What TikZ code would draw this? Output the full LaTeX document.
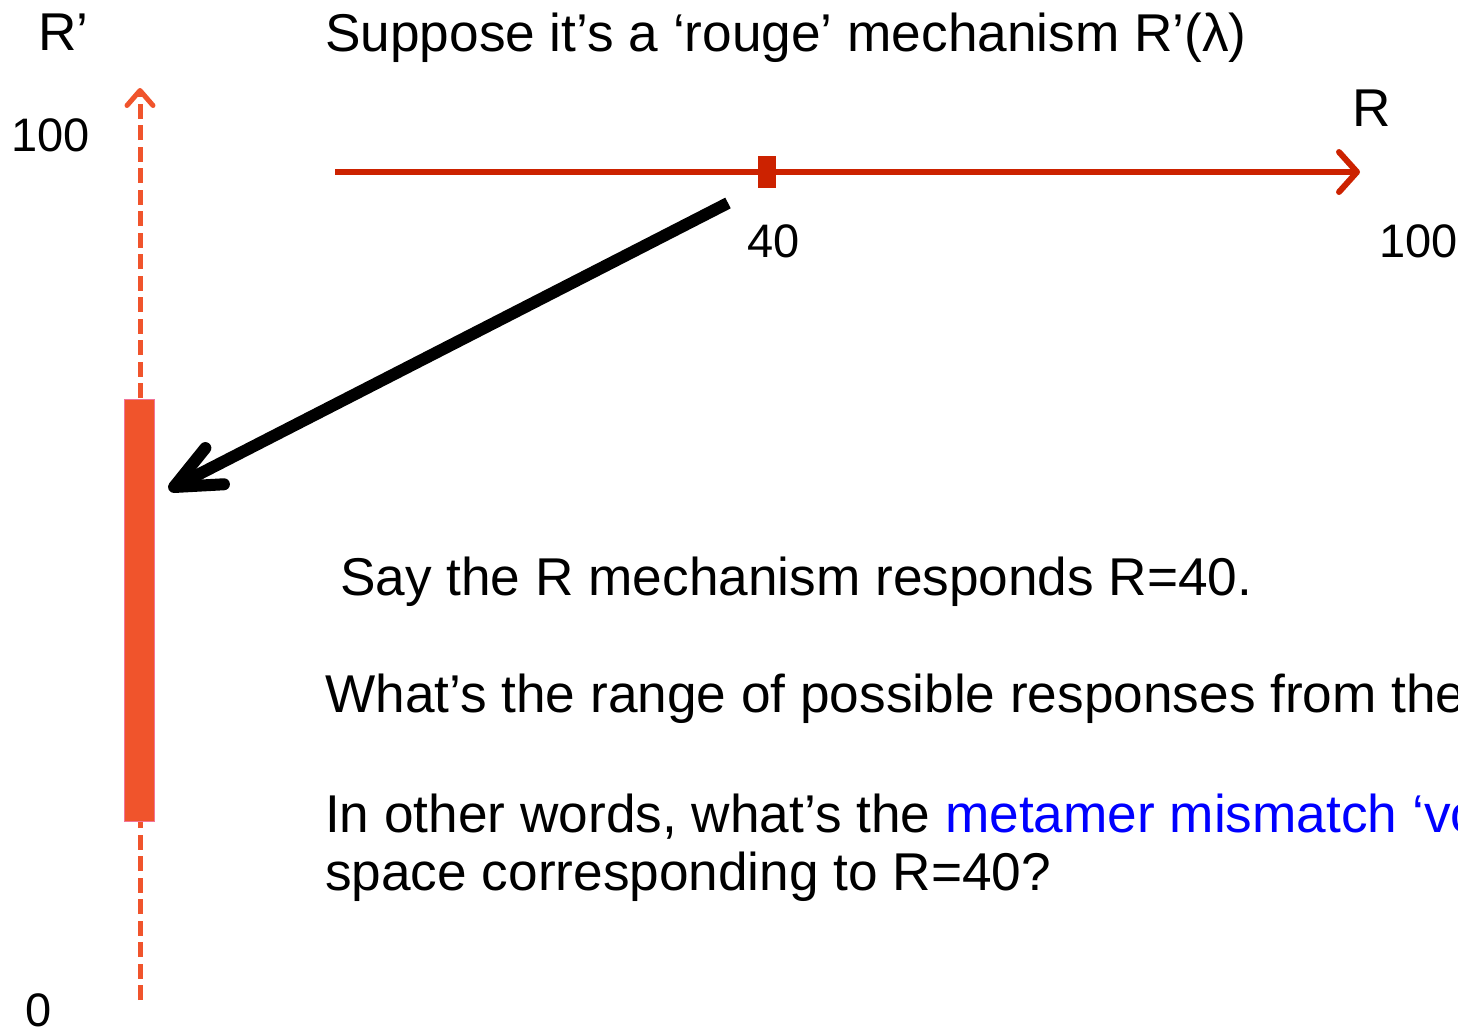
\documentclass[tikz,border=0pt]{standalone}
\usepackage{fontspec}
\setmainfont{Liberation Sans}
\usetikzlibrary{arrows.meta,calc}
\definecolor{axred}{HTML}{CC2200}
\definecolor{orng}{HTML}{F0542C}
\definecolor{pinkedge}{HTML}{F27497}
\definecolor{qblue}{HTML}{0000FF}
\tikzset{
  big/.style={anchor=base west,inner sep=0pt,font=\fontsize{53.2}{58}\selectfont},
  num/.style={anchor=base west,inner sep=0pt,font=\fontsize{47}{52}\selectfont},
  axisline/.style={draw=axred,line width=6pt,-{Straight Barb[length=18pt,width=40pt,line width=6pt,round]}},
  dashaxis/.style={draw=orng,line width=5pt,dash pattern=on 15pt off 6.5pt,-{Straight Barb[length=15pt,width=26pt,line width=5pt,round]}},
  bigarrow/.style={draw=black,line width=12pt},
  barbstyle/.style={draw=black,line width=12pt,line cap=round,line join=round}
}
\begin{document}
\begin{tikzpicture}[x=1pt,y=-1pt]
\useasboundingbox (0,0) rectangle (1458,1029);
\clip (0,0) rectangle (1458,1029);
% vertical R' axis
\coordinate (vbot) at (140,1000);
\coordinate (vtop) at (140,88);
\draw[dashaxis] (vbot) -- (vtop);
\node[draw=pinkedge,fill=orng,line width=1.5pt,minimum width=30pt,minimum height=422pt,inner sep=0pt] (bar) at (139.5,610.5) {};
% horizontal R axis
\coordinate (hstart) at (335,172);
\coordinate (hend) at (1360,172);
\draw[axisline] (hstart) -- (hend);
\node[fill=axred,minimum width=18pt,minimum height=32pt,inner sep=0pt] (mark) at (766.5,172) {};
% black arrow
\coordinate (astart) at (728,203);
\coordinate (atip) at (174,487);
\draw[bigarrow] (astart) -- (atip);
\coordinate (arm1) at ($(atip)!50pt!-24:(astart)$);
\coordinate (arm2) at ($(atip)!50pt!24:(astart)$);
\draw[barbstyle] (arm1) -- (atip) -- (arm2);
% labels
\node[big] (rp) at (38,50) {R’};
\node[big] (title) at (325,51) {Suppose it’s a ‘rouge’ mechanism R’(λ)};
\node[num] (v100) at (11,151) {100};
\node[big] (rlab) at (1352,126) {R};
\node[num] (h40) at (747,257) {40};
\node[num] (h100) at (1379,257) {100};
\node[num] (v0) at (25,1026) {0};
\node[big] (say) at (340,595) {Say the R mechanism responds R=40.};
\node[big] (what) at (325,712) {What’s the range of possible responses from the};
\node[big] (other) at (325,832) {In other words, what’s the \textcolor{qblue}{metamer mismatch ‘vo}};
\node[big] (space) at (325,890) {space corresponding to R=40?};
\end{tikzpicture}
\end{document}
